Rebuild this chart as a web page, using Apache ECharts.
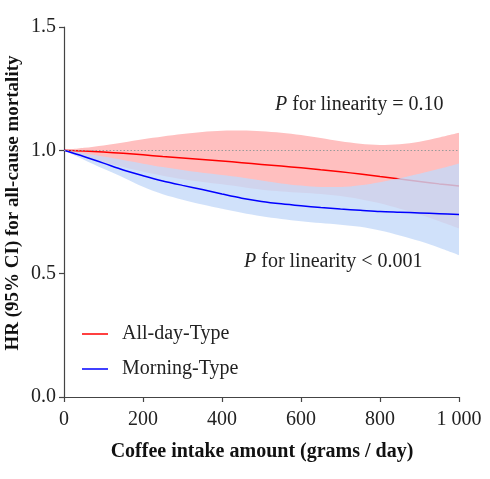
<!DOCTYPE html>
<html>
<head>
<meta charset="utf-8">
<script src="https://cdn.jsdelivr.net/npm/echarts@6/dist/echarts.min.js"></script>
<style>
html,body{margin:0;padding:0;background:#fff;}
#chart{width:490px;height:479px;}
</style>
</head>
<body>
<div id="chart"></div>
<script>
// ---- data ----
const coffeeGrams = [0,50,100,150,200,250,300,350,400,450,500,550,600,650,700,750,800,850,900,950,1000];

const allDayHR    = [1.000,0.997,0.993,0.988,0.982,0.975,0.969,0.963,0.957,0.950,0.943,0.936,0.929,0.921,0.913,0.904,0.894,0.884,0.874,0.864,0.855];
const allDayUpper = [1.000,1.010,1.020,1.032,1.045,1.056,1.066,1.074,1.079,1.080,1.077,1.071,1.062,1.050,1.037,1.027,1.022,1.025,1.035,1.052,1.071];
const allDayLower = [1.000,0.975,0.952,0.932,0.913,0.897,0.883,0.872,0.862,0.851,0.840,0.833,0.828,0.823,0.815,0.802,0.785,0.763,0.740,0.713,0.684];

const morningHR    = [1.000,0.975,0.948,0.920,0.897,0.876,0.858,0.841,0.823,0.806,0.793,0.783,0.775,0.768,0.762,0.757,0.752,0.749,0.746,0.743,0.740];
const morningUpper = [1.000,0.988,0.975,0.961,0.946,0.932,0.920,0.909,0.900,0.890,0.878,0.866,0.857,0.851,0.851,0.858,0.871,0.887,0.905,0.925,0.947];
const morningLower = [1.000,0.962,0.925,0.890,0.852,0.822,0.800,0.780,0.763,0.747,0.733,0.722,0.713,0.705,0.698,0.690,0.675,0.655,0.632,0.605,0.575];

const xTicks = [0,200,400,600,800,1000];
const xTickLabels = ['0','200','400','600','800','1 000'];
const yTicks = [0,0.5,1.0,1.5];
const yTickLabels = ['0.0','0.5','1.0','1.5'];

const seriesNames = ['All-day-Type','Morning-Type'];
const pTextAllDay = 'for linearity = 0.10';
const pTextMorning = 'for linearity < 0.001';
const xTitle = 'Coffee intake amount (grams / day)';
const yTitle = 'HR (95% CI) for all-cause mortality';
const refHR = 1.0;

// ---- helpers ----
const diff = (up, lo) => up.map((u,i)=> +(u-lo[i]).toFixed(4));
const isTick = (i) => xTicks.indexOf(coffeeGrams[i]) >= 0;

const FONT = '"Liberation Serif","Times New Roman",serif';
const smooth = 0.3;
const hidden = {opacity:0};

const chart = echarts.init(document.getElementById('chart'), null, {renderer:'canvas'});
chart.setOption({
  animation:false,
  backgroundColor:'#fff',
  grid:{left:64,right:31,top:27,bottom:82,containLabel:false},
  xAxis:{
    type:'category', data:coffeeGrams.map(String), boundaryGap:false,
    axisLine:{show:true,lineStyle:{color:'#444',width:1.2}},
    axisTick:{show:true,inside:false,length:5,interval:(i)=>isTick(i),lineStyle:{color:'#444',width:1.2}},
    splitLine:{show:false},
    axisLabel:{margin:13,color:'#222',fontFamily:FONT,fontSize:20,interval:(i)=>isTick(i),
      formatter:(v)=>{const i=xTicks.indexOf(+v);return i>=0?xTickLabels[i]:'';}}
  },
  yAxis:{
    type:'value', min:yTicks[0], max:yTicks[yTicks.length-1], interval:0.5,
    axisLine:{show:true,lineStyle:{color:'#444',width:1.2}},
    axisTick:{show:true,inside:false,length:5,lineStyle:{color:'#444',width:1.2}},
    splitLine:{show:false},
    axisLabel:{margin:8,color:'#222',fontFamily:FONT,fontSize:20,
      formatter:(v)=>{const i=yTicks.findIndex(t=>Math.abs(t-v)<1e-9);return i>=0?yTickLabels[i]:'';}}
  },
  legend:{
    data:seriesNames, orient:'vertical', left:77, top:319,
    icon:'rect', itemWidth:26, itemHeight:1.5, itemGap:15,
    textStyle:{fontFamily:FONT,fontSize:20,color:'#222',padding:[0,0,0,9]}
  },
  graphic:[
    {type:'text', x:275, y:105, style:{
      text:'{i|P} '+pTextAllDay, verticalAlign:'middle', fill:'#222',
      font:'20px '+FONT,
      rich:{i:{fontStyle:'italic',fontFamily:FONT,fontSize:20,fill:'#222'}}}},
    {type:'text', x:244, y:262, style:{
      text:'{i|P} '+pTextMorning, verticalAlign:'middle', fill:'#222',
      font:'20px '+FONT,
      rich:{i:{fontStyle:'italic',fontFamily:FONT,fontSize:20,fill:'#222'}}}},
    {type:'text', x:262, y:452, style:{
      text:xTitle, align:'center', verticalAlign:'middle', fill:'#111',
      font:'bold 20px '+FONT}},
    {type:'text', x:13, y:203, rotation:Math.PI/2, style:{
      text:yTitle, align:'center', verticalAlign:'middle', fill:'#111',
      font:'bold 19px '+FONT}}
  ],
  series:[
    {type:'line', name:'allDayLowerBase', stack:'red', data:allDayLower, smooth,
      symbol:'none', lineStyle:hidden, silent:true, z:1},
    {type:'line', name:'allDayBand', stack:'red', data:diff(allDayUpper,allDayLower), smooth,
      symbol:'none', lineStyle:hidden, areaStyle:{color:'#ffbfbf',opacity:1}, silent:true, z:1},
    {type:'line', name:seriesNames[0], data:allDayHR, smooth,
      symbol:'none', color:'#ff0000', lineStyle:{color:'#ff0000',width:1.5}, z:2,
      markLine:{silent:true, symbol:'none', label:{show:false},
        lineStyle:{type:[1.5,2],color:'#9a9a9a',width:1},
        data:[{yAxis:refHR}]}},
    {type:'line', name:'morningLowerBase', stack:'blue', data:morningLower, smooth,
      symbol:'none', lineStyle:hidden, silent:true, z:3},
    {type:'line', name:'morningBand', stack:'blue', data:diff(morningUpper,morningLower), smooth,
      symbol:'none', lineStyle:hidden, areaStyle:{color:'rgba(196,218,249,0.8)',opacity:1}, silent:true, z:3},
    {type:'line', name:seriesNames[1], data:morningHR, smooth,
      symbol:'none', color:'#0000ff', lineStyle:{color:'#0000ff',width:1.5}, z:4}
  ]
});
</script>
</body>
</html>
